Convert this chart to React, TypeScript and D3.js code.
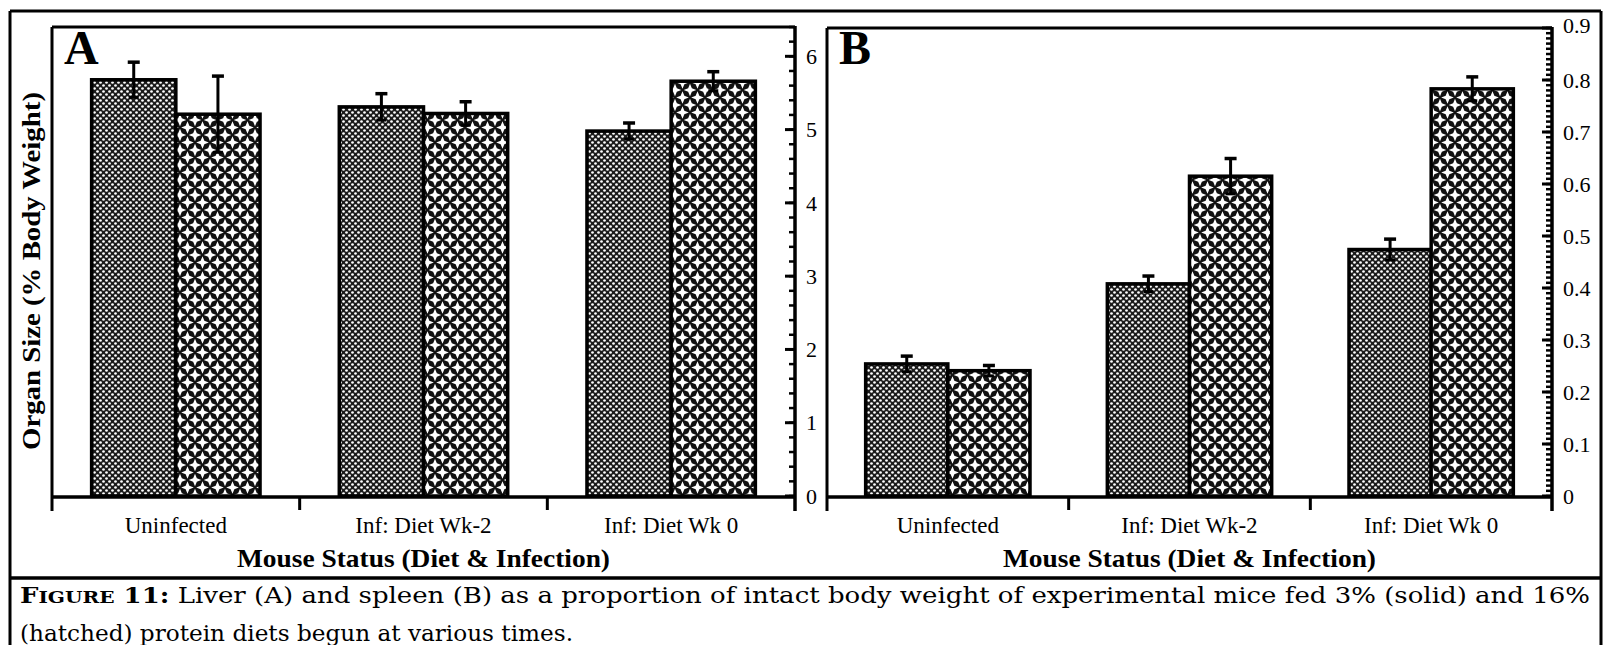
import React from 'react';
import * as d3 from 'd3';

const categories = ['Uninfected', 'Inf: Diet Wk-2', 'Inf: Diet Wk 0'];
const seriesKeys = ['solid', 'hatched'];

const liverSolid = [5.68, 5.31, 4.98];
const liverSolidErr = [0.24, 0.18, 0.11];
const liverHatched = [5.21, 5.22, 5.66];
const liverHatchedErr = [0.52, 0.16, 0.13];

const spleenSolid = [0.254, 0.408, 0.474];
const spleenSolidErr = [0.015, 0.015, 0.02];
const spleenHatched = [0.241, 0.615, 0.783];
const spleenHatchedErr = [0.01, 0.034, 0.023];

const liverTicks = [0, 1, 2, 3, 4, 5, 6];
const spleenTicks = [0, 0.1, 0.2, 0.3, 0.4, 0.5, 0.6, 0.7, 0.8, 0.9];

const xTitle = 'Mouse Status (Diet & Infection)';
const yTitle = 'Organ Size (% Body Weight)';
const captionRest1 = ' Liver (A) and spleen (B) as a proportion of intact body weight of experimental mice fed 3% (solid) and 16%';
const captionLine2 = '(hatched) protein diets begun at various times.';

const SERIF = '"Liberation Serif", "Times New Roman", serif';

type PanelProps = {
  x0: number; x1: number; yTop: number; yBottom: number;
  max: number; minorStep: number; ticks: number[];
  solid: number[]; solidErr: number[]; hatched: number[]; hatchedErr: number[];
  letter: string; fmt: (v: number) => string; labelX: number;
};

function Panel(p: PanelProps) {
  const y = d3.scaleLinear().domain([0, p.max]).range([p.yBottom, p.yTop]);
  const x = d3.scaleBand<string>().domain(categories).range([p.x0, p.x1]).padding(0);
  const bw = x.bandwidth();
  const inner = d3.scaleBand<string>().domain(seriesKeys).range([bw * 0.16, bw * 0.84]).padding(0);
  const minor = d3.range(0, p.max + 1e-9, p.minorStep);
  const axisY = p.yBottom + 1;
  const data = seriesKeys.map((k) => ({
    key: k,
    vals: k === 'solid' ? p.solid : p.hatched,
    errs: k === 'solid' ? p.solidErr : p.hatchedErr,
    fill: k === 'solid' ? 'url(#patSolid)' : 'url(#patHatch)',
  }));
  const boundaries = [p.x0, ...categories.slice(1).map((c) => x(c) as number), p.x1];
  return (
    <g>
      {data.map((s) =>
        categories.map((c, i) => {
          const bx = (x(c) as number) + (inner(s.key) as number);
          return (
            <rect key={s.key + c} x={bx} y={y(s.vals[i])} width={inner.bandwidth()}
              height={y(0) - y(s.vals[i])} fill={s.fill} stroke="#000" strokeWidth={3.5} />
          );
        })
      )}
      {data.map((s) =>
        categories.map((c, i) => {
          const cx = (x(c) as number) + (inner(s.key) as number) + inner.bandwidth() / 2;
          const hi = y(s.vals[i] + s.errs[i]);
          const lo = y(s.vals[i] - s.errs[i]);
          return (
            <g key={'e' + s.key + c} stroke="#000" strokeWidth={3}>
              <line x1={cx} x2={cx} y1={hi} y2={lo} />
              <line x1={cx - 6} x2={cx + 6} y1={hi} y2={hi} strokeWidth={3.5} />
              <line x1={cx - 5} x2={cx + 5} y1={lo} y2={lo} strokeWidth={3} />
            </g>
          );
        })
      )}
      <line x1={p.x0} x2={p.x1} y1={p.yTop} y2={p.yTop} stroke="#000" strokeWidth={3} />
      <line x1={p.x0} x2={p.x0} y1={p.yTop} y2={axisY + 14} stroke="#000" strokeWidth={3} />
      <line x1={p.x1} x2={p.x1} y1={p.yTop - 1} y2={axisY + 14} stroke="#000" strokeWidth={3.5} />
      <line x1={p.x0} x2={p.x1} y1={axisY} y2={axisY} stroke="#000" strokeWidth={3.5} />
      {boundaries.slice(1, -1).map((bx, i) => (
        <line key={'xt' + i} x1={bx} x2={bx} y1={axisY} y2={axisY + 13} stroke="#000" strokeWidth={3} />
      ))}
      {minor.map((v, i) => (
        <line key={'mn' + i} x1={p.x1 - 6} x2={p.x1} y1={y(v)} y2={y(v)} stroke="#000" strokeWidth={2.5} />
      ))}
      {p.ticks.map((v, i) => (
        <line key={'mj' + i} x1={p.x1 - 10} x2={p.x1} y1={y(v)} y2={y(v)} stroke="#000" strokeWidth={3} />
      ))}
      {p.ticks.map((v, i) => (
        <text key={'tl' + i} x={p.labelX} y={v === p.max ? y(v) - 3 : y(v)} dy="0.35em"
          fontFamily={SERIF} fontSize={22} fill="#000">{p.fmt(v)}</text>
      ))}
      {categories.map((c) => (
        <text key={'cl' + c} x={(x(c) as number) + bw / 2} y={533} textAnchor="middle"
          fontFamily={SERIF} fontSize={23} fill="#000">{c}</text>
      ))}
      <text x={(p.x0 + p.x1) / 2} y={567} textAnchor="middle" fontFamily={SERIF}
        fontWeight="bold" fontSize={26} textLength={373} lengthAdjust="spacingAndGlyphs" fill="#000">{xTitle}</text>
      <text x={p.x0 + 12} y={64} fontFamily={SERIF} fontWeight="bold" fontSize={48} fill="#000">{p.letter}</text>
    </g>
  );
}

export default function App() {
  const W = 1604, H = 645;
  const star = (cx: number, cy: number, R: number, r: number) => {
    const pts: string[] = [];
    for (let k = 0; k < 8; k++) {
      const a = (Math.PI / 4) * k - Math.PI / 2;
      const rad = k % 2 === 0 ? R : r;
      pts.push(`${cx + rad * Math.cos(a)},${cy + rad * Math.sin(a)}`);
    }
    return 'M' + pts.join('L') + 'Z';
  };
  return (
    <svg width={W} height={H} style={{ position: 'absolute', left: 0, top: 0, background: '#fff' }}>
      <defs>
        <pattern id="patSolid" patternUnits="userSpaceOnUse" width={6} height={6}>
          <rect width={6} height={6} fill="#1c1c1c" />
          <circle cx={1.5} cy={1.5} r={1.35} fill="#fff" />
          <circle cx={4.5} cy={4.5} r={1.35} fill="#fff" />
        </pattern>
        <pattern id="patHatch" patternUnits="userSpaceOnUse" width={15} height={15}>
          <rect width={15} height={15} fill="#111" />
          {[[0, 0], [15, 0], [0, 15], [15, 15], [7.5, 7.5]].map(([cx, cy], i) => (
            <path key={i} d={star(cx, cy, 6.3, 2.6)} fill="#fff" />
          ))}
        </pattern>
      </defs>
      <rect x={0} y={0} width={W} height={H} fill="#fff" />
      <line x1={10} x2={1601} y1={11} y2={11} stroke="#000" strokeWidth={3} />
      <line x1={10} x2={10} y1={11} y2={H} stroke="#000" strokeWidth={3} />
      <line x1={1601} x2={1601} y1={11} y2={H} stroke="#000" strokeWidth={3} />
      <line x1={10} x2={1601} y1={578} y2={578} stroke="#000" strokeWidth={3.5} />

      <text transform="translate(40,271) rotate(-90)" textAnchor="middle" fontFamily={SERIF}
        fontWeight="bold" fontSize={25} textLength={358} lengthAdjust="spacingAndGlyphs" fill="#000">{yTitle}</text>

      <Panel x0={52} x1={795} yTop={27} yBottom={496} max={6.4} minorStep={0.2} ticks={liverTicks}
        solid={liverSolid} solidErr={liverSolidErr} hatched={liverHatched} hatchedErr={liverHatchedErr}
        letter="A" fmt={(v) => d3.format('d')(v)} labelX={806} />
      <Panel x0={827} x1={1552} yTop={28} yBottom={496} max={0.9} minorStep={0.01} ticks={spleenTicks}
        solid={spleenSolid} solidErr={spleenSolidErr} hatched={spleenHatched} hatchedErr={spleenHatchedErr}
        letter="B" fmt={(v) => (v === 0 ? '0' : d3.format('.1f')(v))} labelX={1563} />

      <text x={20} y={603} fontFamily='"DejaVu Serif", serif' fontSize={22} fill="#000"
        textLength={1570} lengthAdjust="spacingAndGlyphs">
        <tspan fontWeight="bold">F</tspan>
        <tspan fontWeight="bold" fontSize={17}>IGURE</tspan>
        <tspan fontWeight="bold"> 11:</tspan>
        <tspan>{captionRest1}</tspan>
      </text>
      <text x={20} y={641} fontFamily='"DejaVu Serif", serif' fontSize={22} fill="#000"
        textLength={553} lengthAdjust="spacingAndGlyphs">{captionLine2}</text>
    </svg>
  );
}
